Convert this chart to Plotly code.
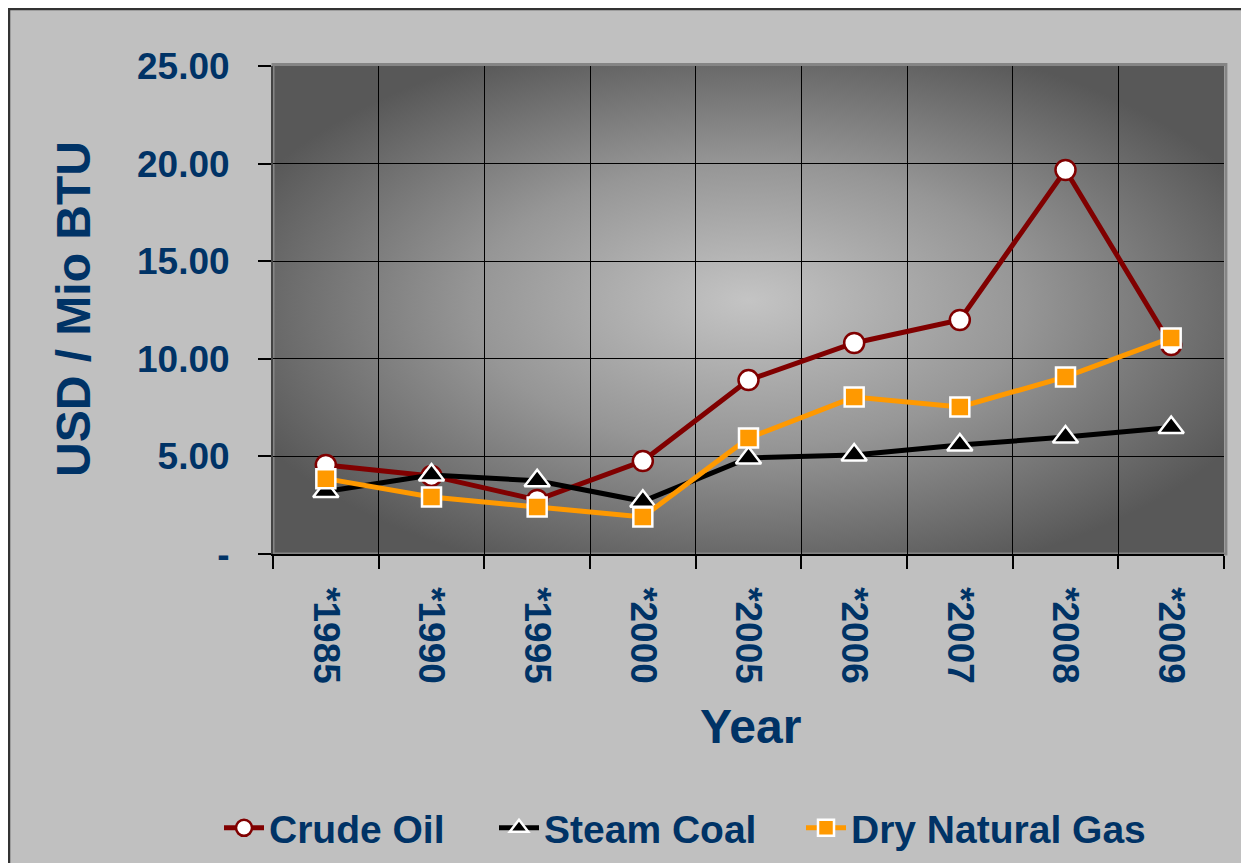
import base64
import plotly.graph_objects as go

years = ["*1985", "*1990", "*1995", "*2000", "*2005", "*2006", "*2007", "*2008", "*2009"]
crude_oil = [4.56, 4.00, 2.77, 4.76, 8.91, 10.81, 11.99, 19.67, 10.71]
steam_coal = [3.20, 4.05, 3.75, 2.70, 4.92, 5.07, 5.58, 5.99, 6.48]
dry_gas = [3.86, 2.92, 2.41, 1.90, 5.94, 8.04, 7.53, 9.07, 11.07]

y_tick_vals = [0, 5, 10, 15, 20, 25]
y_tick_text = ["-", "5.00", "10.00", "15.00", "20.00", "25.00"]

NAVY = "#003366"
FONT = "Liberation Sans, Arial, sans-serif"

# page body has an 8px margin; figure is sized to fit the 1249x863 window
OFF = 8
W, H = 1249 - OFF, 863 - OFF
PL, PR, PT, PB = 273, 1224, 66, 554          # plot area in page pixels
ML, MT = PL - OFF, PT - OFF
MR = W - (PR - OFF)
MB = H - (PB - OFF)
PW = PR - PL
PH = PB - PT


def px_x(p):
    return (p - PL) / PW


def px_y(p):
    return (PB - p) / PH


svg = (
    '<svg xmlns="http://www.w3.org/2000/svg" width="951" height="488" viewBox="0 0 951 488" '
    'preserveAspectRatio="none">'
    '<defs><radialGradient id="g" cx="50%" cy="50%" r="58%" fx="50%" fy="48%">'
    '<stop offset="0%" stop-color="#c4c4c4"/>'
    '<stop offset="50%" stop-color="#969696"/>'
    '<stop offset="100%" stop-color="#585858"/>'
    '</radialGradient></defs>'
    '<rect x="0" y="0" width="951" height="488" fill="url(#g)"/></svg>'
)
svg_uri = "data:image/svg+xml;base64," + base64.b64encode(svg.encode()).decode()

fig = go.Figure()
fig.add_trace(go.Scatter(
    x=years, y=crude_oil, name="Crude Oil", mode="lines+markers", legend="legend",
    line=dict(color="#800000", width=5),
    marker=dict(symbol="circle", size=20, color="white", line=dict(color="#800000", width=2.5)),
))
fig.add_trace(go.Scatter(
    x=years, y=steam_coal, name="Steam Coal", mode="lines+markers", legend="legend2",
    line=dict(color="black", width=5),
    marker=dict(symbol="triangle-up", size=22, color="black", line=dict(color="white", width=2.5)),
))
fig.add_trace(go.Scatter(
    x=years, y=dry_gas, name="Dry Natural Gas", mode="lines+markers", legend="legend3",
    line=dict(color="#FF9900", width=5),
    marker=dict(symbol="square", size=19, color="#FF9900", line=dict(color="white", width=2.5)),
))


def leg(text_start):
    return dict(
        orientation="h", x=px_x(text_start - 51), y=px_y(828), xanchor="left", yanchor="middle",
        font=dict(size=39, color=NAVY, family=FONT, weight="bold"),
        bgcolor="rgba(0,0,0,0)", itemwidth=40,
    )


fig.update_layout(
    width=W, height=H,
    margin=dict(l=ML, r=MR, t=MT, b=MB, autoexpand=False),
    paper_bgcolor="#c0c0c0",
    plot_bgcolor="rgba(0,0,0,0)",
    font=dict(family=FONT, color=NAVY),
    showlegend=True,
    legend=leg(270),
    legend2=leg(545),
    legend3=leg(852),
    images=[dict(
        source=svg_uri, xref="paper", yref="paper", x=0, y=1, sizex=1, sizey=1,
        xanchor="left", yanchor="top", sizing="stretch", layer="below",
    )],
)

fig.update_xaxes(
    type="category", tickson="boundaries", range=[-0.5, 8.5],
    showgrid=True, gridcolor="black", gridwidth=1,
    ticks="outside", ticklen=13, tickcolor="black", tickwidth=1.5,
    tickangle=90, ticklabelstandoff=24,
    tickfont=dict(size=37, color=NAVY, family=FONT, weight="bold"),
    showline=True, linecolor="black", linewidth=1.5,
    zeroline=False,
)
fig.update_yaxes(
    range=[0, 25], tickvals=y_tick_vals, ticktext=y_tick_text,
    showgrid=True, gridcolor="black", gridwidth=1,
    ticks="outside", ticklen=13, tickcolor="black", tickwidth=1.5,
    ticklabelstandoff=21,
    tickfont=dict(size=37, color=NAVY, family=FONT, weight="bold"),
    showline=True, linecolor="#444444", linewidth=2,
    zeroline=False,
)

fig.add_annotation(
    text="USD / Mio BTU", xref="paper", yref="paper", x=px_x(73), y=px_y(309),
    xanchor="center", yanchor="middle", textangle=-90, showarrow=False,
    font=dict(size=48, color=NAVY, family=FONT, weight="bold"),
)
fig.add_annotation(
    text="Year", xref="paper", yref="paper", x=px_x(750), y=px_y(726),
    xanchor="center", yanchor="middle", showarrow=False,
    font=dict(size=48, color=NAVY, family=FONT, weight="bold"),
)

# plot-area frame (gray) and outer chart border
fig.add_shape(type="rect", xref="paper", yref="paper", x0=0, y0=0, x1=1.002, y1=1.003,
              line=dict(color="#858585", width=3), layer="below")
fig.add_shape(type="rect", xref="paper", yref="paper",
              x0=px_x(OFF + 1), y0=px_y(900), x1=px_x(1300), y1=px_y(OFF + 1),
              line=dict(color="#333333", width=2.5), layer="below")

fig.write_html("out.html")
